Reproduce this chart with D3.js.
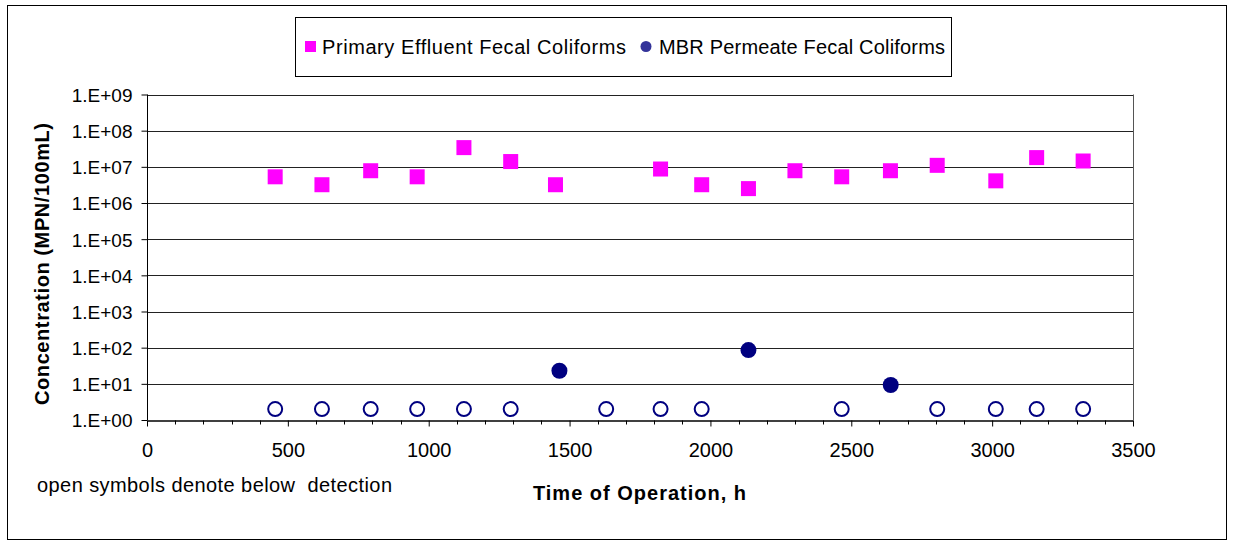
<!DOCTYPE html>
<html>
<head>
<meta charset="utf-8">
<script src="https://cdn.jsdelivr.net/npm/d3@7"></script>
<style>
  html, body { margin: 0; padding: 0; background: #fff; }
  svg { display: block; font-family: "Liberation Sans", Arial, sans-serif; }
</style>
</head>
<body>
<svg id="chart" width="1233" height="545"></svg>
<script>
// Fecal coliform concentrations over time of operation (hours)
const primaryHours = [455, 621, 794, 959, 1125, 1291, 1450, 1823, 1969, 2135, 2300, 2466, 2639, 2805, 3013, 3158, 3323];
const primaryValues = [5.3e6, 3.2e6, 7.8e6, 5.3e6, 3.4e7, 1.4e7, 3.2e6, 8.7e6, 3.2e6, 2.5e6, 7.8e6, 5.3e6, 7.8e6, 1.1e7, 4.1e6, 1.8e7, 1.45e7];

const permeateHours = [455, 621, 794, 959, 1125, 1291, 1464, 1630, 1823, 1969, 2135, 2466, 2640, 2805, 3013, 3158, 3323];
const permeateValues = [2, 2, 2, 2, 2, 2, 23, 2, 2, 2, 86, 2, 9.3, 2, 2, 2, 2];
// false = below detection limit (drawn as open symbol)
const permeateDetected = [false, false, false, false, false, false, true, false, false, false, true, false, true, false, false, false, false];

const yTickValues = [1e0, 1e1, 1e2, 1e3, 1e4, 1e5, 1e6, 1e7, 1e8, 1e9];
const yTickLabels = ["1.E+00", "1.E+01", "1.E+02", "1.E+03", "1.E+04", "1.E+05", "1.E+06", "1.E+07", "1.E+08", "1.E+09"];
const xTickValues = [0, 500, 1000, 1500, 2000, 2500, 3000, 3500];
const xTickLabels = ["0", "500", "1000", "1500", "2000", "2500", "3000", "3500"];

const seriesNames = ["Primary Effluent Fecal Coliforms", "MBR Permeate Fecal Coliforms"];

const svg = d3.select("#chart");

const plot = { left: 147, right: 1133, top: 94.5, bottom: 420 };

const x = d3.scaleLinear().domain([0, 3500]).range([plot.left, plot.right]);
const y = d3.scaleLog().domain([1, 1e9]).range([plot.bottom, plot.top]);

// outer frame
svg.append("rect")
  .attr("x", 7.5).attr("y", 5.5)
  .attr("width", 1219).attr("height", 534)
  .attr("fill", "#fff").attr("stroke", "#000").attr("stroke-width", 1);

// horizontal gridlines
svg.append("g")
  .selectAll("line")
  .data(yTickValues.slice(1))
  .join("line")
  .attr("x1", plot.left).attr("x2", plot.right)
  .attr("y1", d => Math.round(y(d)) + 0.5)
  .attr("y2", d => Math.round(y(d)) + 0.5)
  .attr("stroke", "#222").attr("stroke-width", 1);

// right edge of plot area
svg.append("line")
  .attr("x1", plot.right + 0.5).attr("x2", plot.right + 0.5)
  .attr("y1", y(1e9)).attr("y2", plot.bottom)
  .attr("stroke", "#555").attr("stroke-width", 1);

// y axis
const yAxis = d3.axisLeft(y)
  .tickValues(yTickValues)
  .tickFormat((d, i) => yTickLabels[i])
  .tickSize(6)
  .tickPadding(9);
const gy = svg.append("g")
  .attr("transform", `translate(${plot.left + 0.5},0)`)
  .call(yAxis);
gy.select(".domain").attr("stroke", "#000").attr("d", `M-0,${y(1e9)}V${plot.bottom}`);
gy.selectAll(".tick line").attr("stroke", "#000");
gy.selectAll(".tick text")
  .attr("fill", "#000")
  .style("font-size", "19px")
  .attr("dy", "0.36em");

// x axis: minor ticks every 100 h
const minorTicks = d3.range(0, 3501, 100).filter(v => v % 500 !== 0);
const gxMinor = svg.append("g")
  .attr("transform", `translate(0,${plot.bottom + 0.5})`);
gxMinor.selectAll("line")
  .data(minorTicks)
  .join("line")
  .attr("x1", d => Math.round(x(d)) + 0.5).attr("x2", d => Math.round(x(d)) + 0.5)
  .attr("y1", 0).attr("y2", 4)
  .attr("stroke", "#000");

const xAxis = d3.axisBottom(x)
  .tickValues(xTickValues)
  .tickFormat((d, i) => xTickLabels[i])
  .tickSize(6)
  .tickSizeOuter(0)
  .tickPadding(16);
const gx = svg.append("g")
  .attr("transform", `translate(0,${plot.bottom + 0.5})`)
  .call(xAxis);
gx.select(".domain").attr("stroke", "#000").attr("stroke-width", 1.5);
gx.selectAll(".tick line").attr("stroke", "#000");
gx.selectAll(".tick text")
  .attr("fill", "#000")
  .style("font-size", "20px");

// primary effluent: magenta squares
const sq = 15;
svg.append("g")
  .selectAll("rect")
  .data(primaryHours.map((h, i) => ({ h, v: primaryValues[i] })))
  .join("rect")
  .attr("x", d => x(d.h) - sq / 2)
  .attr("y", d => y(d.v) - sq / 2)
  .attr("width", sq).attr("height", sq)
  .attr("fill", "#ff00ff");

// MBR permeate: navy circles, open when below detection
svg.append("g")
  .selectAll("circle")
  .data(permeateHours.map((h, i) => ({ h, v: permeateValues[i], det: permeateDetected[i] })))
  .join("circle")
  .attr("cx", d => x(d.h))
  .attr("cy", d => y(d.v))
  .attr("r", d => d.det ? 8 : 7)
  .attr("fill", d => d.det ? "#000080" : "#fff")
  .attr("stroke", "#000080")
  .attr("stroke-width", d => d.det ? 0 : 2);

// y axis title
svg.append("text")
  .attr("transform", "translate(42,264) rotate(-90)")
  .attr("text-anchor", "middle")
  .attr("dominant-baseline", "central")
  .attr("textLength", 282)
  .attr("lengthAdjust", "spacing")
  .style("font-size", "20px")
  .style("font-weight", "bold")
  .text("Concentration (MPN/100mL)");

// x axis title
svg.append("text")
  .attr("x", 640).attr("y", 500)
  .attr("text-anchor", "middle")
  .style("font-size", "20px")
  .style("font-weight", "bold")
  .style("letter-spacing", "1px")
  .text("Time of Operation, h");

// note
svg.append("text")
  .attr("x", 37).attr("y", 492)
  .attr("textLength", 355)
  .attr("lengthAdjust", "spacing")
  .style("font-size", "20px")
  .style("white-space", "pre")
  .text("open symbols denote below  detection");

// legend
const legend = svg.append("g");
legend.append("rect")
  .attr("x", 295.5).attr("y", 17.5)
  .attr("width", 656).attr("height", 59)
  .attr("fill", "#fff").attr("stroke", "#000");
legend.append("rect")
  .attr("x", 305).attr("y", 41)
  .attr("width", 11).attr("height", 11)
  .attr("fill", "#ff00ff");
legend.append("text")
  .attr("x", 322).attr("y", 47)
  .attr("dominant-baseline", "central")
  .attr("textLength", 304)
  .attr("lengthAdjust", "spacing")
  .style("font-size", "20px")
  .text(seriesNames[0]);
legend.append("circle")
  .attr("cx", 646).attr("cy", 46.5).attr("r", 5.5)
  .attr("fill", "#333399");
legend.append("text")
  .attr("x", 659).attr("y", 47)
  .attr("dominant-baseline", "central")
  .attr("textLength", 286)
  .attr("lengthAdjust", "spacing")
  .style("font-size", "20px")
  .text(seriesNames[1]);
</script>
</body>
</html>
